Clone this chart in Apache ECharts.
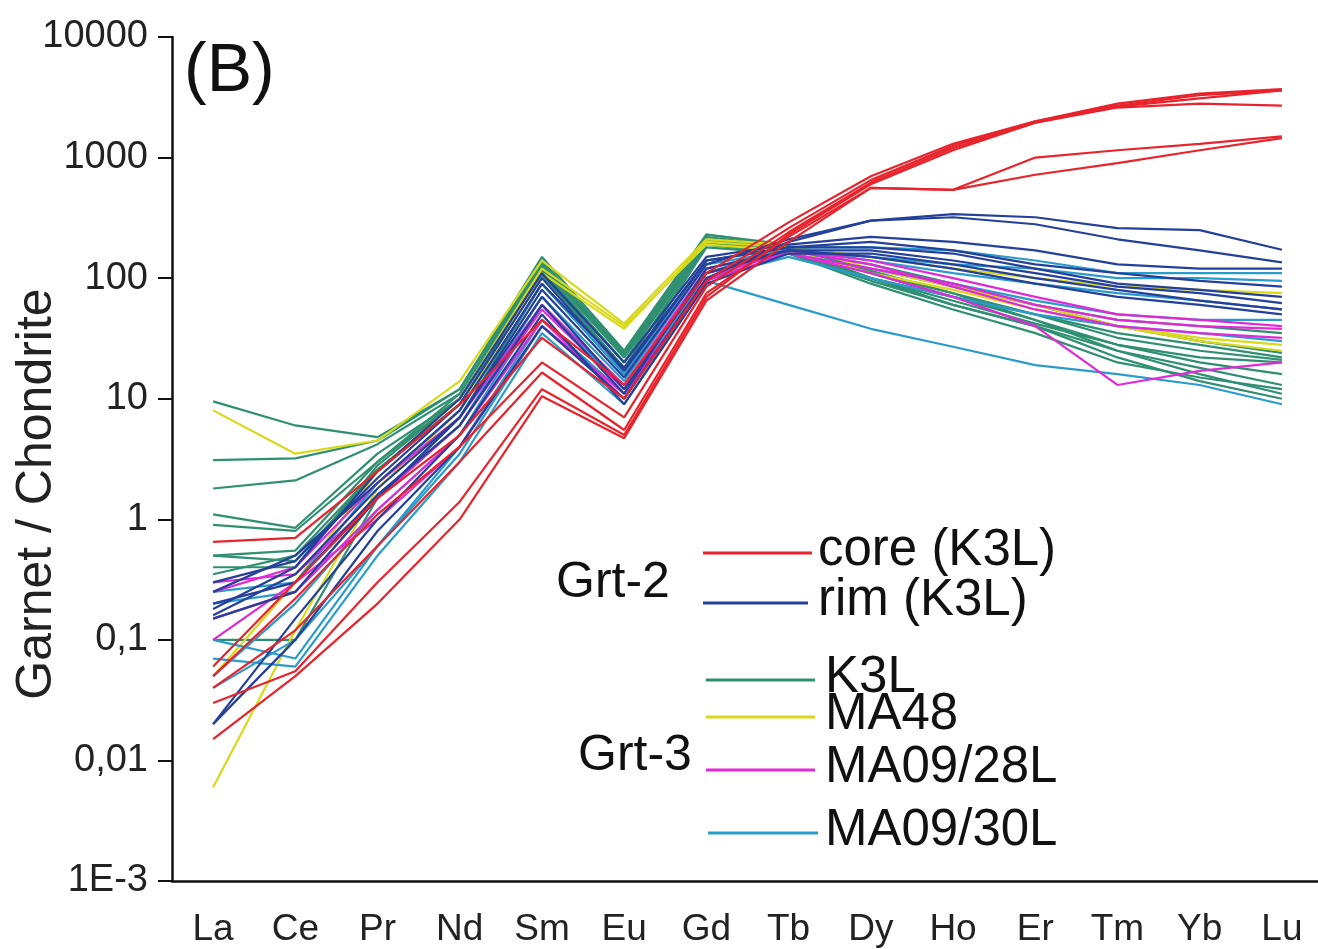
<!DOCTYPE html>
<html>
<head>
<meta charset="utf-8">
<script src="https://cdn.jsdelivr.net/npm/echarts@6/dist/echarts.min.js"></script>
<style>
  html, body { margin: 0; padding: 0; background: #fff; }
  #chart { width: 1318px; height: 949px; }
</style>
</head>
<body>
<div id="chart"></div>
<script>
// REE order on the x axis
const elements = ['La', 'Ce', 'Pr', 'Nd', 'Sm', 'Eu', 'Gd', 'Tb', 'Dy', 'Ho', 'Er', 'Tm', 'Yb', 'Lu'];
const yTickLabels = ['1E-3', '0,01', '0,1', '1', '10', '100', '1000', '10000'];

// Grt-2 core (K3L)
const coreK3L = [
  [0.65, 0.7, 2.5, 9, 45, 13, 110, 290, 700, 1300, 2000, 2800, 3400, 3700],
  [0.06, 0.3, 1.5, 5, 32, 10, 95, 260, 650, 1250, 2000, 2700, 3300, 3600],
  [0.05, 0.22, 1.1, 4, 20, 7, 85, 240, 620, 1200, 1950, 2600, 2800, 2700],
  [0.04, 0.12, 0.6, 3, 16.5, 5.5, 75, 220, 560, 540, 1000, 1150, 1300, 1500],
  [0.015, 0.05, 0.2, 1.0, 10.5, 4.7, 65, 200, 560, 540, 720, 900, 1150, 1450],
  [0.03, 0.055, 0.3, 1.4, 12, 5, 70, 230, 600, 1150, 1950, 2650, 3100, 3600]
];
// Grt-2 rim (K3L)
const rimK3L = [
  [0.02, 0.1, 0.8, 4, 40, 10, 100, 200, 300, 340, 320, 260, 250, 172],
  [0.15, 0.25, 1.5, 7, 80, 15, 130, 210, 300, 320, 280, 210, 170, 135],
  [0.18, 0.4, 2.5, 10, 110, 20, 150, 190, 220, 200, 170, 130, 120, 120],
  [0.25, 0.5, 2, 8, 90, 18, 140, 180, 200, 170, 130, 110, 95, 85],
  [0.3, 0.45, 2.2, 9, 100, 17, 140, 180, 180, 160, 120, 90, 80, 70],
  [0.16, 0.35, 1.8, 7, 70, 12, 110, 170, 170, 140, 110, 85, 75, 62],
  [0.02, 0.15, 1.0, 5, 50, 9, 90, 160, 160, 130, 100, 80, 65, 55],
  [0.2, 0.3, 1.6, 6, 60, 11, 120, 170, 150, 120, 90, 70, 60, 50]
];
// Grt-3 K3L
const grt3K3L = [
  [9.5, 6, 4.8, 12, 150, 25, 230, 190, 110, 70, 45, 25, 16, 11],
  [3.1, 3.2, 4.5, 12, 140, 24, 220, 180, 100, 60, 40, 22, 14, 10],
  [1.8, 2.1, 4.2, 11, 130, 22, 210, 170, 100, 65, 42, 28, 22, 20],
  [1.1, 0.85, 3.5, 10, 120, 20, 200, 170, 110, 75, 50, 32, 25, 21],
  [0.9, 0.8, 3, 10, 125, 22, 200, 160, 90, 55, 35, 20, 15, 12],
  [0.5, 0.45, 2.5, 9, 110, 18, 190, 160, 95, 60, 40, 25, 18, 13],
  [0.4, 0.4, 2.8, 10, 115, 20, 210, 175, 120, 85, 60, 40, 30, 24],
  [0.1, 0.1, 1.5, 7, 90, 16, 180, 160, 100, 70, 50, 35, 28, 22],
  [0.35, 0.5, 2.6, 9, 105, 18, 190, 170, 130, 90, 60, 45, 40, 35],
  [0.5, 0.55, 3, 11, 135, 23, 230, 185, 115, 75, 45, 28, 20, 16]
];
// Grt-3 MA48
const ma48 = [
  [8, 3.5, 4.5, 14, 140, 42, 210, 190, 120, 85, 60, 40, 32, 28],
  [0.006, 0.12, 1.8, 8, 110, 38, 200, 180, 150, 120, 100, 85, 80, 75],
  [0.05, 0.3, 2.5, 10, 120, 40, 190, 170, 110, 80, 55, 40, 30, 25]
];
// Grt-3 MA09/28L
const ma0928L = [
  [0.3, 0.35, 1.5, 6, 55, 12, 110, 160, 110, 70, 40, 13, 17, 20],
  [0.15, 0.25, 1.2, 5, 45, 10, 100, 170, 140, 100, 70, 50, 45, 40],
  [0.25, 0.4, 2, 7, 60, 13, 120, 170, 130, 85, 55, 40, 35, 32],
  [0.1, 0.3, 1.0, 4, 40, 11, 95, 160, 120, 90, 60, 45, 40, 38]
];
// Grt-3 MA09/30L
const ma0930L = [
  [0.07, 0.06, 0.5, 3, 35, 9, 95, 60, 38, 27, 19, 16, 13, 9],
  [0.04, 0.1, 0.6, 3.5, 40, 10, 110, 180, 180, 170, 140, 110, 110, 110],
  [0.2, 0.25, 1.5, 6, 70, 14, 130, 170, 150, 130, 120, 100, 100, 95],
  [0.25, 0.3, 2, 8, 90, 16, 140, 175, 140, 110, 90, 75, 65, 55],
  [0.1, 0.07, 0.6, 4, 45, 11, 100, 150, 100, 70, 50, 40, 35, 30],
  [0.05, 0.2, 1.2, 5, 60, 12, 110, 160, 120, 90, 65, 50, 45, 45]
];

const groups = [
  { name: 'K3L', color: '#2e9070', rows: grt3K3L },
  { name: 'MA48', color: '#d9d91a', rows: ma48 },
  { name: 'MA09/30L', color: '#2a9ccc', rows: ma0930L },
  { name: 'MA09/28L', color: '#e02ad8', rows: ma0928L },
  { name: 'rim (K3L)', color: '#24409a', rows: rimK3L },
  { name: 'core (K3L)', color: '#e8232b', rows: coreK3L }
];
const colorOf = {};
groups.forEach(g => { colorOf[g.name] = g.color; });

const series = [];
groups.forEach(g => {
  g.rows.forEach(r => {
    series.push({
      name: g.name,
      type: 'line',
      data: r,
      showSymbol: false,
      lineStyle: { color: g.color, width: 2.2 },
      itemStyle: { color: g.color },
      emphasis: { disabled: true }
    });
  });
});

const font = 'Liberation Sans, Arial, sans-serif';

// hand-placed legend like the original figure
const legendRows = [
  { name: 'core (K3L)', y: 553, x0: 703, x1: 812, tx: 818 },
  { name: 'rim (K3L)', y: 603, x0: 703, x1: 808, tx: 818 },
  { name: 'K3L', y: 680, x0: 706, x1: 815, tx: 825 },
  { name: 'MA48', y: 717, x0: 706, x1: 815, tx: 825 },
  { name: 'MA09/28L', y: 770, x0: 706, x1: 815, tx: 825 },
  { name: 'MA09/30L', y: 833, x0: 708, x1: 818, tx: 825 }
];
const graphics = [
  { type: 'text', left: 184, top: 38, style: { text: '(B)', font: '68px ' + font, fill: '#111' } },
  { type: 'text', x: 37, y: 494, rotation: Math.PI / 2,
    style: { text: 'Garnet / Chondrite', font: '50px ' + font, fill: '#222', align: 'center', verticalAlign: 'middle' } },
  { type: 'text', x: 556, y: 583, style: { text: 'Grt-2', font: '50px ' + font, fill: '#111', verticalAlign: 'middle' } },
  { type: 'text', x: 578, y: 756, style: { text: 'Grt-3', font: '50px ' + font, fill: '#111', verticalAlign: 'middle' } }
];
legendRows.forEach(l => {
  graphics.push({ type: 'line', shape: { x1: l.x0, y1: l.y, x2: l.x1, y2: l.y },
    style: { stroke: colorOf[l.name], lineWidth: 3 } });
  graphics.push({ type: 'text', x: l.tx, y: l.y - 2,
    style: { text: l.name, font: '51px ' + font, fill: '#111', verticalAlign: 'middle' } });
});

const chart = echarts.init(document.getElementById('chart'));
chart.setOption({
  animation: false,
  backgroundColor: '#fff',
  grid: { left: 172, top: 37, width: 1151, height: 844, outerBoundsMode: 'none', containLabel: false },
  xAxis: {
    type: 'category',
    data: elements,
    boundaryGap: true,
    axisLine: { lineStyle: { color: '#111', width: 2.5 } },
    axisTick: { alignWithLabel: true, length: 12, lineStyle: { color: '#111', width: 2 } },
    axisLabel: { color: '#222', fontSize: 37, fontFamily: font, margin: 30, interval: 0 },
    splitLine: { show: false }
  },
  yAxis: {
    type: 'log',
    logBase: 10,
    min: 0.001,
    max: 10000,
    axisLine: { show: true, lineStyle: { color: '#111', width: 2.5 } },
    axisTick: { show: true, length: 14, lineStyle: { color: '#111', width: 2 } },
    axisLabel: {
      color: '#222', fontSize: 38, fontFamily: font, margin: 24,
      formatter: v => yTickLabels[Math.round(Math.log10(v)) + 3]
    },
    splitLine: { show: false }
  },
  graphic: graphics,
  series: series
});
</script>
</body>
</html>
